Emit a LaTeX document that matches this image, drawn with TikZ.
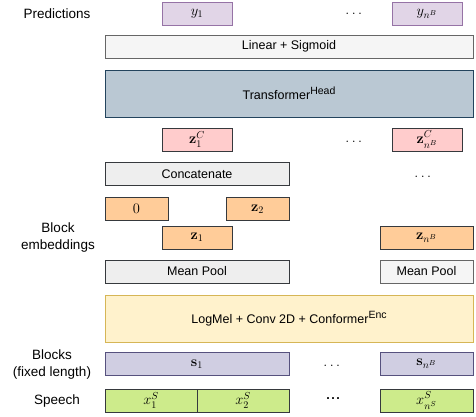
\RequirePackage{fix-cm}
\documentclass[tikz,border=0pt]{standalone}
\usepackage{amsmath,amssymb}
\usepackage[no-math]{fontspec}
\setmainfont{Liberation Sans}
\usepackage{tikz}
\usetikzlibrary{positioning}

\definecolor{predfill}{HTML}{E1D5E7}
\definecolor{predline}{HTML}{9673A6}
\definecolor{linfill}{HTML}{F5F5F5}
\definecolor{linline}{HTML}{666666}
\definecolor{trfill}{HTML}{BAC8D3}
\definecolor{trline}{HTML}{23445D}
\definecolor{catfill}{HTML}{FFCCCC}
\definecolor{darkline}{HTML}{36393D}
\definecolor{grayfill}{HTML}{EEEEEE}
\definecolor{embfill}{HTML}{FFCC99}
\definecolor{encfill}{HTML}{FFF2CC}
\definecolor{encline}{HTML}{D6B656}
\definecolor{blkfill}{HTML}{D0CEE2}
\definecolor{blkline}{HTML}{56517E}
\definecolor{spfill}{HTML}{CDEB8B}

\newcommand{\supname}[1]{\raisebox{0.4em}{\fontsize{10.5}{12}\selectfont #1}}

\begin{document}
\begin{tikzpicture}[x=1pt, y=-1pt,
    box/.style={draw, line width=0.8pt, inner sep=0pt, minimum height=23pt, font=\fontsize{12.5}{15}\selectfont},
    mbox/.style={box, font=\fontsize{14.5}{17}\selectfont},
    pred/.style={mbox, fill=predfill, draw=predline, minimum width=70pt},
    zcat/.style={mbox, fill=catfill, draw=darkline, minimum width=70pt},
    emb/.style={mbox, fill=embfill, draw=darkline},
    pool/.style={box, fill=grayfill, draw=darkline},
    blk/.style={mbox, fill=blkfill, draw=blkline},
    speech/.style={mbox, fill=spfill, draw=darkline},
    wide/.style={minimum width=368pt},
    lbl/.style={align=center, font=\fontsize{13.5}{17}\selectfont},
    dotsnode/.style={font=\fontsize{14.5}{17}\selectfont}]
    \useasboundingbox (0,0) rectangle (476,417);

    % Row labels
    \node[lbl] (lpred) at (57,14) {Predictions};
    \node[lbl] (lemb) at (58,237.5) {Block\\embeddings};
    \node[lbl] (lblk) at (52,364.5) {Blocks\\(fixed length)};
    \node[lbl] (lsp) at (57,401) {Speech};

    % Predictions
    \node[pred] (y1) at (197,13.5) {$y_1$};
    \node[pred] (ynb) at (427,13.5) {$y_{n^B}$};
    \node[dotsnode] (ydots) at (355,14) {$\dots$};

    % Head
    \node[box, wide, fill=linfill, draw=linline] (lin) at (289,46.5) {Linear + Sigmoid};
    \node[box, wide, fill=trfill, draw=trline, minimum height=47pt] (trans) at (289,93.5) {Transformer\supname{Head}};

    % Concatenated embeddings
    \node[zcat] (zc1) at (197,139.5) {$\mathbf{z}^C_1$};
    \node[zcat] (zcnb) at (427,139.5) {$\mathbf{z}^C_{n^B}$};
    \node[dotsnode] (zcdots) at (355,142) {$\dots$};

    \node[pool, minimum width=184pt] (concat) at (197,174) {Concatenate};
    \node[dotsnode] (catdots) at (424,177) {$\dots$};

    % Block embeddings
    \node[emb, minimum width=63pt] (zero) at (136.5,209) {$0$};
    \node[emb, minimum width=63pt] (z2) at (257.5,209) {$\mathbf{z}_2$};
    \node[emb, minimum width=70pt] (z1) at (197,237.5) {$\mathbf{z}_1$};
    \node[emb, minimum width=93pt] (znb) at (426.5,237.5) {$\mathbf{z}_{n^B}$};

    \node[pool, minimum width=184pt] (pool1) at (197,271.5) {Mean Pool};
    \node[box, fill=linfill, draw=linline, minimum width=93pt] (poolnb) at (426.5,271.5) {Mean Pool};

    % Encoder
    \node[box, wide, fill=encfill, draw=encline, minimum height=47pt] (enc) at (289,318.5) {LogMel + Conv 2D + Conformer\supname{Enc}};

    % Blocks
    \node[blk, minimum width=184pt] (s1) at (197,364) {$\mathbf{s}_1$};
    \node[blk, minimum width=93pt] (snb) at (426.5,364) {$\mathbf{s}_{n^B}$};
    \node[dotsnode] (sdots) at (333,366) {$\dots$};

    % Speech
    \node[speech, minimum width=92pt] (x1) at (151,400.5) {$x^S_1$};
    \node[speech, minimum width=92pt] (x2) at (243,400.5) {$x^S_2$};
    \node[speech, minimum width=93pt] (xns) at (426.5,400.5) {$x^S_{n^S}$};
    \node[font=\fontsize{18}{20}\selectfont] (xdots) at (333,399) {...};

\end{tikzpicture}
\end{document}
